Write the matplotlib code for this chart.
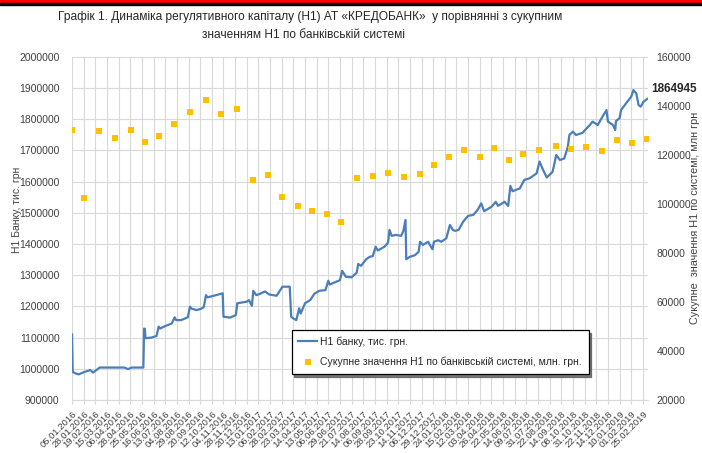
import matplotlib
matplotlib.use("Agg")
import matplotlib.pyplot as plt
from matplotlib.patches import Rectangle
from matplotlib.lines import Line2D
from matplotlib.ticker import FuncFormatter

plt.rcParams["font.family"] = ["Liberation Sans", "DejaVu Sans"]

# category labels (every 16th business day is labelled)
DATE_LABELS = [
    "05.01.2016", "28.01.2016", "19.02.2016", "15.03.2016", "06.04.2016",
    "28.04.2016", "25.05.2016", "16.06.2016", "13.07.2016", "04.08.2016",
    "29.08.2016", "20.09.2016", "12.10.2016", "04.11.2016", "28.11.2016",
    "20.12.2016", "13.01.2017", "06.02.2017", "28.02.2017", "23.03.2017",
    "14.04.2017", "13.05.2017", "06.06.2017", "29.06.2017", "21.07.2017",
    "14.08.2017", "06.09.2017", "28.09.2017", "23.10.2017", "14.11.2017",
    "06.12.2017", "29.12.2017", "24.01.2018", "15.02.2018", "12.03.2018",
    "03.04.2018", "26.04.2018", "22.05.2018", "14.06.2018", "09.07.2018",
    "31.07.2018", "22.08.2018", "14.09.2018", "08.10.2018", "31.10.2018",
    "22.11.2018", "14.12.2018", "10.01.2019", "01.02.2019", "25.02.2019",
]
LABEL_STEP = 16
LAST_DAY = 790

# H1 of the bank, thousand UAH (business-day index, value)
H1_DAY = [
    0, 1, 5, 9, 15, 20, 25, 29, 33, 38, 72, 77, 82, 98, 99, 100, 101, 109,
    116, 119, 121, 129, 137, 141, 143, 150, 159, 162, 164, 171, 178, 181,
    184, 186, 198, 207, 208, 217, 225, 227, 240, 243, 247, 249, 253, 258,
    265, 271, 281, 289, 299, 301, 304, 308, 312, 314, 320, 327, 333, 340,
    348, 352, 354, 363, 368, 371, 376, 384, 391, 393, 397, 404, 409, 413,
    417, 420, 429, 434, 436, 439, 445, 452, 455, 458, 459, 464, 471, 476,
    478, 482, 489, 495, 497, 503, 507, 514, 519, 523, 526, 531, 537, 544,
    551, 557, 562, 566, 576, 582, 585, 594, 599, 602, 605, 615, 621, 628,
    638, 642, 647, 652, 660, 665, 670, 676, 681, 683, 688, 692, 701, 711,
    715, 722, 729, 734, 736, 743, 746, 747, 752, 754, 761, 768, 771, 775,
    778, 781, 785, 790,
]
H1_VALUE = [
    1110000, 990000, 985000, 982000, 988000, 992000, 996000, 988000, 995000,
    1004000, 1004000, 999000, 1004000, 1004000, 1129000, 1128000, 1098000,
    1100000, 1105000, 1135000, 1129000, 1138000, 1145000, 1165000, 1156000,
    1156000, 1165000, 1199000, 1193000, 1188000, 1193000, 1198000, 1236000,
    1229000, 1236000, 1242000, 1167000, 1164000, 1172000, 1210000, 1215000,
    1220000, 1202000, 1250000, 1236000, 1240000, 1248000, 1238000, 1234000,
    1263000, 1263000, 1167000, 1161000, 1156000, 1194000, 1177000, 1210000,
    1220000, 1241000, 1250000, 1252000, 1282000, 1270000, 1279000, 1284000,
    1314000, 1295000, 1293000, 1308000, 1336000, 1330000, 1351000, 1359000,
    1361000, 1391000, 1379000, 1391000, 1404000, 1445000, 1426000, 1429000,
    1426000, 1441000, 1477000, 1351000, 1359000, 1364000, 1375000, 1407000,
    1397000, 1407000, 1383000, 1407000, 1412000, 1407000, 1418000, 1461000,
    1445000, 1442000, 1445000, 1471000, 1490000, 1493000, 1509000, 1530000,
    1505000, 1519000, 1535000, 1522000, 1535000, 1522000, 1586000, 1569000,
    1578000, 1605000, 1610000, 1626000, 1664000, 1637000, 1613000, 1631000,
    1685000, 1669000, 1674000, 1712000, 1749000, 1760000, 1749000, 1756000,
    1781000, 1792000, 1781000, 1810000, 1829000, 1792000, 1781000, 1765000,
    1794000, 1803000, 1829000, 1851000, 1872000, 1893000, 1882000, 1845000,
    1840000, 1856000, 1864945,
]

# banking system total H1, million UAH (monthly)
SYS_DAY = [
    0, 17, 37, 59, 81, 100, 119, 140, 162, 184, 204, 227, 249, 269, 289,
    311, 330, 350, 370, 391, 413, 434, 456, 478, 497, 518, 538, 560, 579,
    600, 620, 642, 664, 685, 706, 728, 749, 769, 789,
]
SYS_VALUE = [
    130000, 102500, 129700, 127000, 130200, 125200, 127500, 132700, 137400,
    142300, 136600, 138500, 109600, 111900, 102700, 99100, 97200, 96000,
    92500, 110500, 111300, 112600, 110800, 112000, 115700, 119100, 122000,
    119000, 122900, 118000, 120200, 122000, 123600, 122500, 123000, 121700,
    126000, 125000, 126400,
]

TITLE_1 = "Графік 1. Динаміка регулятивного капіталу (Н1) АТ «КРЕДОБАНК»  у порівнянні з сукупним"
TITLE_2 = "значенням Н1 по банківській системі"

BLUE = "#4a7ebb"
GOLD = "#ffc000"
GRID = "#d9d9d9"
TEXT = "#404040"

W, H = 702, 453
fig = plt.figure(figsize=(W / 100, H / 100), dpi=100)
ax = fig.add_axes([72 / W, 1 - 400 / H, 576 / W, 343.3 / H])
ax2 = ax.twinx()

# top red/black band
fig.patches.append(Rectangle((0, 1 - 3 / H), 1, 3 / H, color="#ff0000",
                             transform=fig.transFigure, zorder=0))
fig.patches.append(Rectangle((0, 1 - 5 / H), 1, 2 / H, color="black",
                             transform=fig.transFigure, zorder=0))

ax.plot(H1_DAY, H1_VALUE, color=BLUE, lw=1.6, zorder=3)
ax2.scatter(SYS_DAY, SYS_VALUE, marker="s", s=20, color=GOLD, zorder=3,
            linewidths=0)

plain = FuncFormatter(lambda v, p: f"{v:.0f}")
ax.set_xlim(0, LAST_DAY + 1)
ax.set_ylim(900000, 2000000)
ax.set_yticks(range(900000, 2000001, 100000))
ax.yaxis.set_major_formatter(plain)
ax2.set_ylim(20000, 160000)
ax2.set_yticks(range(20000, 160001, 20000))
ax2.yaxis.set_major_formatter(plain)

ticks = [i * LABEL_STEP for i in range(len(DATE_LABELS))]
ax.set_xticks(ticks)
ax.set_xticklabels(DATE_LABELS, rotation=45, ha="right", va="top",
                   rotation_mode="anchor", fontsize=6.8, color=TEXT)
ax.tick_params(axis="x", length=3, color=GRID, pad=4)
ax.tick_params(axis="y", length=0, pad=9, labelsize=7.5, labelcolor=TEXT)
ax2.tick_params(axis="y", length=0, pad=6, labelsize=7.5, labelcolor=TEXT)

ax.grid(True, color=GRID, lw=0.8)
ax.set_axisbelow(True)
for a in (ax, ax2):
    for side in ("top", "left", "right"):
        a.spines[side].set_visible(False)
    a.spines["bottom"].set_color(GRID)
ax2.spines["bottom"].set_visible(False)

# last value label
ax.annotate(f"{H1_VALUE[-1]}", (H1_DAY[-1], H1_VALUE[-1]), xytext=(3, 7),
            textcoords="offset points", fontsize=8.5, fontweight="bold",
            color="#262626", ha="left", va="center", annotation_clip=False)

fig.text(310 / W, 1 - 17 / H, TITLE_1, ha="center", va="center",
         fontsize=8.6, color="#262626")
fig.text(304 / W, 1 - 35 / H, TITLE_2, ha="center", va="center",
         fontsize=8.6, color="#262626")
fig.text(17 / W, 1 - 210 / H, "Н1 Банку, тис. грн", rotation=90,
         ha="center", va="center", fontsize=7.5, color=TEXT)
fig.text(695 / W, 1 - 218 / H, "Сукупне  значення Н1 по системі, млн грн",
         rotation=90, ha="center", va="center", fontsize=7.8, color=TEXT)

handles = [
    Line2D([], [], color=BLUE, lw=1.6),
    Line2D([], [], color=GOLD, marker="s", ls="none", markersize=4.5,
           markeredgewidth=0),
]
labels = ["Н1 банку, тис. грн.",
          "Сукупне значення Н1 по банківській системі, млн. грн."]
leg = ax2.legend(handles, labels, loc="center", bbox_to_anchor=(0.639, 0.14),
                 fontsize=7.5, frameon=True, fancybox=False, edgecolor="black",
                 shadow={"color": "0.35", "alpha": 0.8}, handlelength=1.8,
                 labelspacing=0.95, borderpad=0.65, handletextpad=0.3,
                 borderaxespad=0)
leg.get_frame().set_linewidth(0.9)
for t in leg.get_texts():
    t.set_color("#262626")

fig.savefig("out.png", dpi=100)
